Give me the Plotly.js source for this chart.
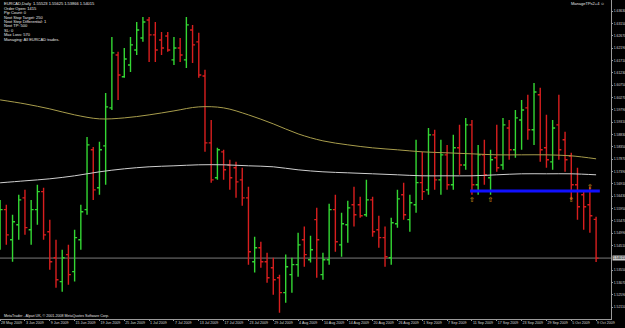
<!DOCTYPE html>
<html><head><meta charset="utf-8">
<script src="https://cdn.plot.ly/plotly-3.0.1.min.js"></script>
<style>html,body{margin:0;padding:0;background:#000;}#chart{width:625px;height:328px;}</style>
</head><body><div id="chart"></div>
<script>
// EURCAD Daily, 28 May 2009 - 9 Oct 2009 (bar index = trading day)
const open = [1.5453,1.5590,1.5473,1.5531,1.5636,1.5512,1.5590,1.5660,1.5504,1.5403,
1.5310,1.5415,1.5349,1.5473,1.5590,1.5823,1.5675,1.5838,1.5986,1.6192,
1.6107,1.6153,1.6211,1.6258,1.6328,1.6270,1.6250,1.6266,1.6173,1.6219,
1.6173,1.6289,1.6243,1.6110,1.5850,1.5714,1.5815,1.5764,1.5753,1.5706,
1.5636,1.5387,1.5442,1.5387,1.5364,1.5325,1.5267,1.5337,1.5376,1.5473,
1.5395,1.5551,1.5337,1.5395,1.5590,1.5453,1.5531,1.5609,1.5609,1.5570,
1.5628,1.5512,1.5481,1.5403,1.5535,1.5648,1.5551,1.5609,1.5695,1.5667,
1.5881,1.5706,1.5803,1.5687,1.5831,1.5764,1.5920,1.5687,1.5803,1.5714,
1.5792,1.5764,1.5908,1.5823,1.5939,1.5986,1.5901,1.6037,1.5831,1.5776,
1.5920,1.5862,1.5799,1.5687,1.5648,1.5609,1.55523];
const high = [1.5628,1.5609,1.5570,1.5648,1.5667,1.5628,1.5687,1.5675,1.5551,1.5473,
1.5434,1.5453,1.5512,1.5609,1.5873,1.5834,1.5854,1.6044,1.6262,1.6204,
1.6219,1.6262,1.6320,1.6340,1.6340,1.6320,1.6281,1.6281,1.6262,1.6258,
1.6340,1.6309,1.6278,1.6134,1.5939,1.5831,1.5823,1.5784,1.5776,1.5753,
1.5679,1.5485,1.5465,1.5422,1.5403,1.5337,1.5415,1.5403,1.5500,1.5524,
1.5488,1.5597,1.5422,1.5613,1.5648,1.5578,1.5625,1.5679,1.5640,1.5706,
1.5640,1.5566,1.5524,1.5558,1.5667,1.5695,1.5648,1.5862,1.5815,1.5908,
1.5901,1.5862,1.5842,1.5881,1.5920,1.5947,1.5939,1.5842,1.5862,1.5823,
1.5920,1.5947,1.5939,1.5978,1.6017,1.6037,1.6083,1.6064,1.5959,1.5939,
1.6037,1.5893,1.5811,1.5753,1.5660,1.5679,1.55625];
const low = [1.5434,1.5453,1.5387,1.5473,1.5492,1.5453,1.5531,1.5473,1.5356,1.5286,
1.5271,1.5298,1.5310,1.5434,1.5570,1.5628,1.5648,1.5687,1.5978,1.6017,
1.6103,1.6126,1.6192,1.6243,1.6165,1.6165,1.6192,1.6204,1.6153,1.6165,
1.6141,1.6161,1.6103,1.5815,1.5695,1.5706,1.5706,1.5667,1.5636,1.5605,
1.5376,1.5345,1.5364,1.5306,1.5259,1.5189,1.5228,1.5267,1.5329,1.5368,
1.5384,1.5325,1.5317,1.5376,1.5426,1.5407,1.5461,1.5524,1.5558,1.5562,
1.5485,1.5442,1.5368,1.5376,1.5520,1.5551,1.5504,1.5578,1.5628,1.5648,
1.5667,1.5648,1.5667,1.5667,1.5726,1.5745,1.5648,1.5648,1.5687,1.5648,
1.5737,1.5745,1.5784,1.5792,1.5823,1.5862,1.5842,1.5776,1.5753,1.5745,
1.5784,1.5737,1.5628,1.5551,1.5512,1.5500,1.53866];
const close = [1.5590,1.5492,1.5543,1.5628,1.5520,1.5590,1.5660,1.5492,1.5387,1.5317,
1.5403,1.5337,1.5481,1.5582,1.5842,1.5667,1.5823,1.5990,1.6200,1.6114,
1.6176,1.6231,1.6289,1.6320,1.6270,1.6211,1.6219,1.6211,1.6219,1.6192,
1.6309,1.6231,1.6114,1.5850,1.5706,1.5823,1.5745,1.5714,1.5698,1.5636,
1.5426,1.5442,1.5387,1.5325,1.5317,1.5267,1.5368,1.5376,1.5453,1.5415,
1.5434,1.5473,1.5395,1.5590,1.5465,1.5535,1.5597,1.5570,1.5566,1.5628,
1.5504,1.5481,1.5407,1.5539,1.5632,1.5570,1.5617,1.5695,1.5660,1.5881,
1.5706,1.5803,1.5687,1.5831,1.5764,1.5920,1.5687,1.5803,1.5726,1.5784,
1.5753,1.5920,1.5823,1.5947,1.5978,1.5901,1.6048,1.5823,1.5784,1.5908,
1.5823,1.5784,1.5687,1.5601,1.5601,1.5566,1.54015];

// Date labels every 4 bars
const dateLabels = ["28 May 2009","3 Jun 2009","9 Jun 2009","15 Jun 2009","19 Jun 2009","25 Jun 2009",
"1 Jul 2009","7 Jul 2009","13 Jul 2009","17 Jul 2009","23 Jul 2009","29 Jul 2009","4 Aug 2009",
"10 Aug 2009","14 Aug 2009","20 Aug 2009","26 Aug 2009","1 Sep 2009","7 Sep 2009","11 Sep 2009",
"17 Sep 2009","23 Sep 2009","29 Sep 2009","5 Oct 2009","9 Oct 2009"];
const dateBars = [0,4,8,12,16,20,24,28,32,36,40,44,48,52,56,60,64,68,72,76,80,84,88,92,96];

// Moving averages read at the labelled bars
const maSlow = [1.60171,1.60016,1.59821,1.59588,1.59433,1.59471,1.59588,1.59743,1.59899,1.59860,
1.59588,1.59238,1.58849,1.58577,1.58422,1.58305,1.58228,1.58150,1.58111,1.58072,1.58033,1.58033,1.58033,1.57994,1.57878];
const maFast = [1.56945,1.57022,1.57100,1.57217,1.57372,1.57489,1.57567,1.57606,1.57645,1.57645,
1.57606,1.57567,1.57450,1.57372,1.57333,1.57295,1.57256,1.57217,1.57217,1.57217,1.57256,1.57295,1.57295,1.57295,1.57256];

// Y tick labels
const priceLabels = ["1.63630","1.63150","1.62670","1.62190","1.61710","1.61230","1.60750","1.60270",
"1.59790","1.59310","1.58830","1.58350","1.57870","1.57390","1.56910","1.56430","1.55950","1.55470",
"1.54990","1.54510","1.53550","1.53070","1.52590","1.52110","1.51630"];

// Trade level line and arrow markers
const levelBars = [75.7, 96.6];
const levelPrice = [1.5663, 1.5663];
const arrowBars = [76, 79, 92, 95];
const arrowPrices = [1.5625, 1.5625, 1.5628, 1.5679];

const lastPrice = 1.54015;
const infoLines = ["EURCAD,Daily  1.55523 1.55625 1.53866 1.54015","Order Open: 1415","Pip Count: 0",
"Next Stop Target: 250","Next Step Differential: 1","Next TP: 500","SL: 0","Max Loss: 570",
"Managing: All EURCAD trades."];

const idx = open.map((_, i) => i);
const FONT = "Liberation Sans";
const traces = [
  {type:'scatter', mode:'lines', x:dateBars, y:maSlow, line:{color:'#a89d4c', width:1, shape:'spline'}, hoverinfo:'skip'},
  {type:'scatter', mode:'lines', x:dateBars, y:maFast, line:{color:'#cfcfcf', width:1, shape:'spline'}, hoverinfo:'skip'},
  {type:'ohlc', x:idx, open:open, high:high, low:low, close:close, tickwidth:0.4,
   increasing:{line:{color:'#33d633', width:1.4}}, decreasing:{line:{color:'#d81e1e', width:1.4}}, hoverinfo:'skip'},
  {type:'scatter', mode:'lines', x:levelBars, y:levelPrice, line:{color:'#1010ff', width:3}, hoverinfo:'skip'},
  {type:'scatter', mode:'text', x:arrowBars, y:arrowPrices, text:arrowBars.map(()=> '⇧'),
   textfont:{color:'#e0a81c', size:7, family:"DejaVu Sans"}, hoverinfo:'skip'}
];

const annotations = infoLines.map((t, k) => ({
  xref:'paper', yref:'paper', x:0.004, y:1 - (4 + 4.4*k)/319, xanchor:'left', yanchor:'middle',
  text:t, showarrow:false, font:{size:4, color:'#e8e8e8', family:FONT}
}));
annotations.push({xref:'paper', yref:'paper', x:0.993, y:1 - 4/319, xanchor:'right', yanchor:'middle',
  text:'ManageTPs2+4 ☺', showarrow:false, font:{size:4, color:'#e8e8e8', family:FONT}});
annotations.push({xref:'paper', yref:'paper', x:0.003, y:1 - 316/319, xanchor:'left', yanchor:'middle',
  text:'MetaTrader - Alpari UK, © 2001-2008 MetaQuotes Software Corp.', showarrow:false,
  font:{size:3.6, color:'#e0e0e0', family:FONT}});
annotations.push({xref:'paper', yref:'y', x:1, y:lastPrice, xanchor:'left', yanchor:'middle', xshift:1,
  text:lastPrice.toFixed(5), showarrow:false, bgcolor:'#c8c8c8', borderpad:0,
  font:{size:3.4, color:'#000', family:FONT}});

const layout = {
  width:625, height:328, paper_bgcolor:'#000', plot_bgcolor:'#000',
  margin:{l:0, r:14, t:0, b:9}, showlegend:false, dragmode:false,
  xaxis:{range:[-0.02, 98.4], tickvals:dateBars, ticktext:dateLabels, ticklabelposition:'outside right',
    tickangle:0, tickfont:{size:3.6, color:'#d8d8d8', family:FONT}, showgrid:false, zeroline:false, showline:true,
    linecolor:'#9a9a9a', linewidth:1, ticks:'outside', ticklen:1, tickcolor:'#9a9a9a',
    rangeslider:{visible:false}, fixedrange:true, automargin:false},
  yaxis:{side:'right', range:[1.51645, 1.64058], tickvals:priceLabels.map(Number), ticktext:priceLabels,
    tickfont:{size:3.4, color:'#d8d8d8', family:FONT}, showgrid:false, zeroline:false, showline:true,
    linecolor:'#9a9a9a', linewidth:1, ticks:'outside', ticklen:1, tickcolor:'#9a9a9a', fixedrange:true, automargin:false},
  shapes:[{type:'line', xref:'paper', x0:0, x1:1, yref:'y', y0:lastPrice, y1:lastPrice,
    line:{color:'#7a7a7a', width:1}, layer:'below'}],
  annotations:annotations
};
Plotly.newPlot('chart', traces, layout, {displayModeBar:false, staticPlot:true});
</script></body></html>
